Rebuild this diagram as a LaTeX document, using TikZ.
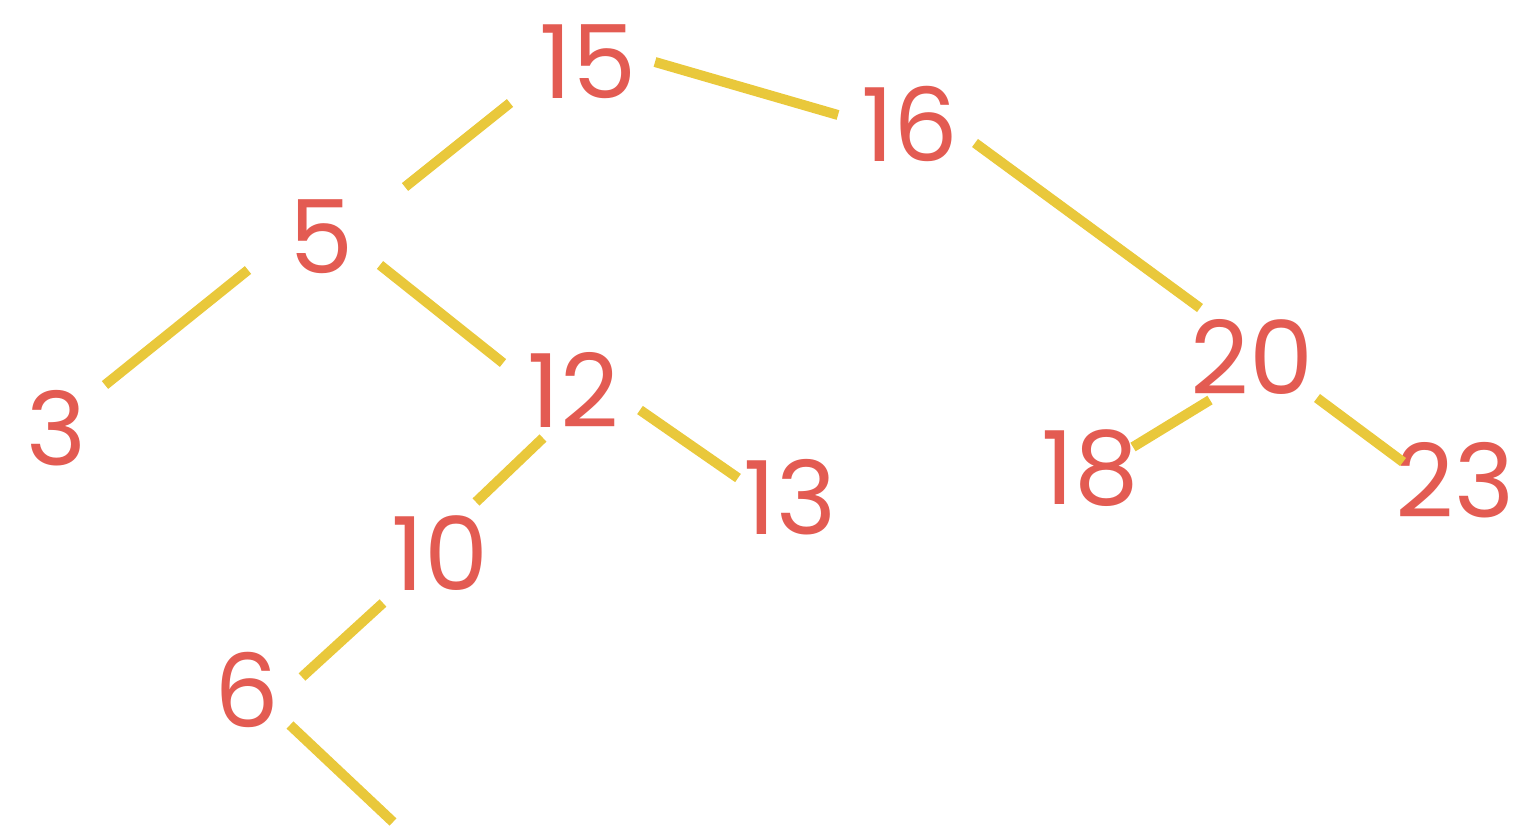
\documentclass[tikz,border=0pt]{standalone}
\usepackage{fontspec}
\setmainfont{Poppins}
\definecolor{numred}{HTML}{E35B52}
\definecolor{edgeyellow}{HTML}{E9C83B}
\begin{document}
\begin{tikzpicture}[x=0.01cm,y=-0.01cm,
  num/.style={text=numred,font=\fontsize{29}{32}\selectfont,inner sep=0pt},
  edge/.style={draw=edgeyellow,line width=0.1cm}]
\useasboundingbox (0,0) rectangle (1533,836);
\node[num] (n15) at (588,62) {15};
\node[num] (n16) at (910,124) {16};
\node[num] (n5) at (322,237) {5};
\node[num] (n3) at (57,428) {3};
\node[num] (n12) at (573,390) {12};
\node[num] (n13) at (790,497) {13};
\node[num] (n10) at (440,553) {10};
\node[num] (n6) at (247,690) {6};
\node[num] (n20) at (1252,357) {20};
\node[num] (n18) at (1090,468) {18};
\node[num] (n23) at (1455,480) {23};
\coordinate (free) at (393,822);
\draw[edge] ([shift={(-78,41)}]n15.center) -- ([shift={(83,-50)}]n5.center);
\draw[edge] ([shift={(67,0)}]n15.center) -- ([shift={(-72,-9)}]n16.center);
\draw[edge] ([shift={(-74,33)}]n5.center) -- ([shift={(48,-43)}]n3.center);
\draw[edge] ([shift={(58,28)}]n5.center) -- ([shift={(-70,-27)}]n12.center);
\draw[edge] ([shift={(65,19)}]n16.center) -- ([shift={(-52,-49)}]n20.center);
\draw[edge] ([shift={(-30,48)}]n12.center) -- ([shift={(36,-51)}]n10.center);
\draw[edge] ([shift={(67,20)}]n12.center) -- ([shift={(-52,-19)}]n13.center);
\draw[edge] ([shift={(-57,50)}]n10.center) -- ([shift={(55,-13)}]n6.center);
\draw[edge] ([shift={(43,35)}]n6.center) -- (free);
\draw[edge] ([shift={(-42,43)}]n20.center) -- ([shift={(43,-21)}]n18.center);
\draw[edge] ([shift={(65,41)}]n20.center) -- ([shift={(-52,-18)}]n23.center);
\end{tikzpicture}
\end{document}
